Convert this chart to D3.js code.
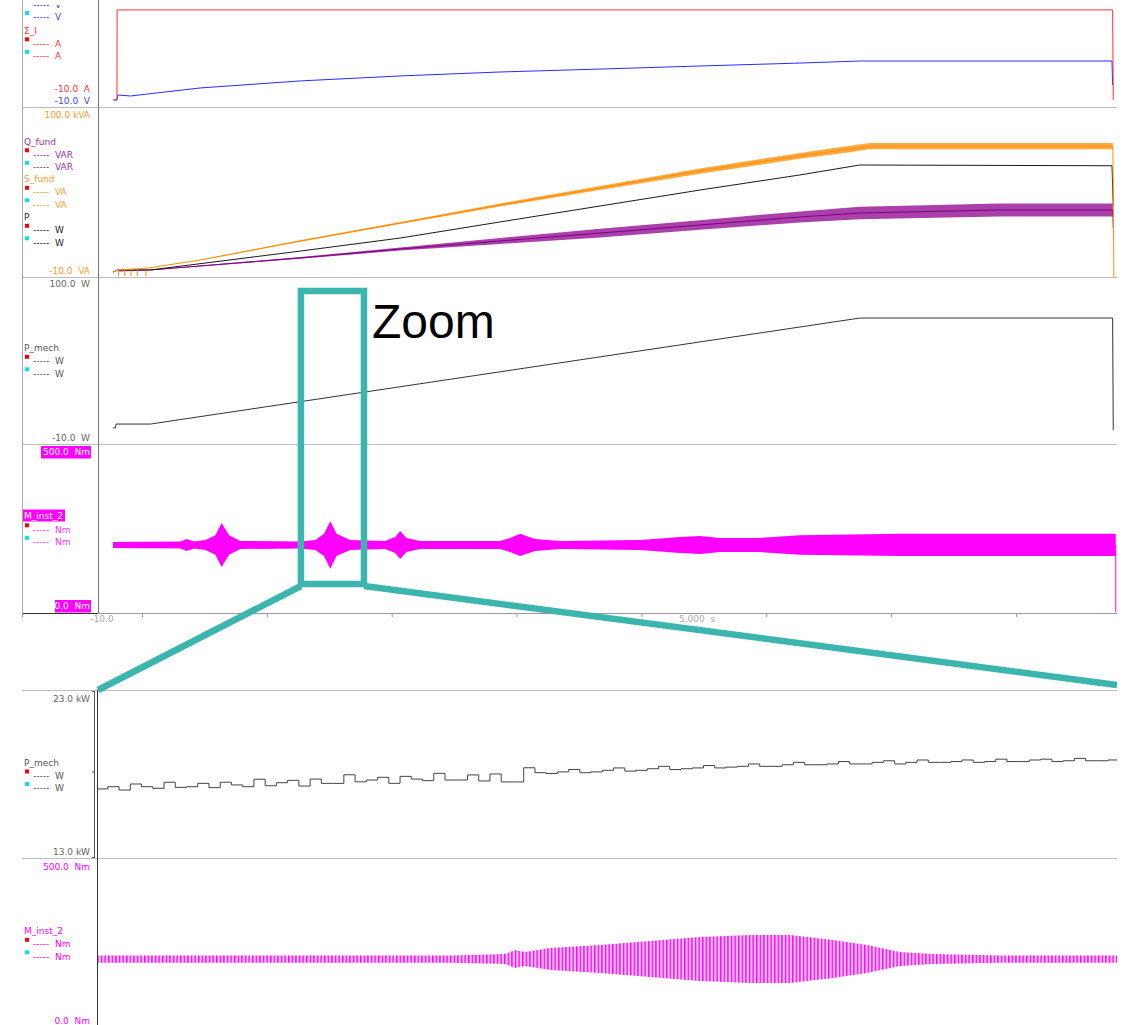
<!DOCTYPE html>
<html lang="en">
<head>
<meta charset="utf-8">
<title>Recorder with zoom</title>
<script src="https://cdn.jsdelivr.net/npm/d3@7"></script>
<style>
  body { margin: 0; background: #fff; }
  text { font-family: "DejaVu Sans", sans-serif; font-size: 9px; }
</style>
</head>
<body>
<script>

// time spans (s)
var tTop = [0, 8.16];
var tZoom = [1.625, 2.13];
var axisTicks = [0.352, 1.352, 2.352, 3.352, 4.352, 5.352, 6.352, 7.352];

// panel 1: voltage (V) and current (A)
var uSum = [[0.13,-8.6],[0.15,-8.6],[0.16,-5.2],[0.26,-5.9],[0.82,-0.4],[1.62,4.4],[2.42,7.8],[3.22,10.5],
            [4.02,12.5],[4.82,14.6],[5.62,16.6],[6.10,18],[8.12,18],[8.125,1.6]];
var iSum = [[0.12,-8.6],[0.152,-8.6],[0.153,52.9],[8.125,52.9],[8.13,-8.6]];

// panel 2: [t, value, noise half width]
var sFund = [[0.12,-10,0],[0.16,-8.6,0],[0.40,-7.3,0],[0.82,-1.8,0.2],[1.62,11.2,0.5],[2.42,23.5,0.7],[3.22,35.8,1],
             [4.02,47.4,1.4],[4.82,59,1.8],[5.62,69.3,2],[6.02,74,2.2],[6.18,76,2.2],[8.127,76,2.2],[8.135,-13.4,0]];
var sStartDips = [0.16, 0.21, 0.26, 0.31, 0.38];
var pFund = [[0.12,-10],[0.16,-8.6],[0.42,-8.6],[1.62,4.3],[2.42,13.2],[3.22,24.2],[4.02,35.1],[4.82,46],
             [5.62,56.3],[6.10,63.1],[8.12,62.6],[8.13,35.8]];
var qFund = [[0.16,-9.3,0],[0.42,-8.6,0.2],[1.62,-0.4,0.6],[2.42,5.7,1],[3.22,11.2,2],[4.02,16.6,3],
             [4.82,22.1,3.2],[5.62,27.6,3.8],[6.10,30.3,4.2],[7.22,32.4,4.4],[8.127,32.4,4.4],[8.13,20,0]];

// panel 3: mechanical power
var pMech = [[0.12,-2.3],[0.14,-2.3],[0.145,0.4],[0.42,0.4],[6.10,74.2],[8.125,74.2],[8.13,-3.7]];

// panel 4: torque [t, mean, half spread] (Nm)
var mInst = [[0.12,195,9.4],[0.66,195,11],[0.71,195,19],[0.77,195,11],[0.86,195,16],[0.94,195,31],[0.99,195,69],
             [1.05,195,31],[1.14,195,12.6],[1.62,195,11],[1.74,195,16],[1.81,195,35],[1.86,195,75],[1.91,195,35],
             [2.02,195,16],[2.30,195,12.6],[2.38,195,25],[2.42,195,44],[2.47,195,22],[2.58,195,12.6],[3.22,195,12.6],
             [3.30,195,22],[3.38,195,35],[3.50,195,19],[3.70,195,12.6],[4.34,195,16],[4.66,195,25],[4.82,195,28],
             [4.98,195,22],[5.30,195,22],[5.62,195,31],[6.42,195,35],[7.22,195,35],[8.15,195,35]];

// zoom panel 5: sampled mechanical power (kW), one value per sample
var pMechZoomT0 = 1.6243;
var pMechZoomDt = 0.00557;
var pMechZoom = [17.03,17.17,16.96,17.34,17.17,17.07,17.45,17.13,17.17,17.38,
                 17.11,17.45,17.28,17.17,17.64,17.23,17.42,17.57,17.21,17.65,
                 17.38,17.38,17.92,17.48,17.59,17.76,17.38,17.82,17.65,17.55,
                 18.01,17.59,17.59,17.91,17.53,17.97,17.47,17.47,18.36,18.05,
                 18.0,18.1,18.25,18.05,18.1,18.2,18.35,18.15,18.2,18.3,
                 18.45,18.25,18.3,18.35,18.5,18.35,18.4,18.45,18.6,18.45,
                 18.45,18.55,18.7,18.55,18.55,18.6,18.75,18.6,18.6,18.7,
                 18.8,18.6,18.7,18.85,18.7,18.7,18.75,18.85,18.7,18.75,
                 18.9,18.75,18.75,18.85,18.9,18.75,18.8,18.95,18.8,18.8,18.85];

// zoom panel 6: torque envelope [t, mean, half spread] (Nm)
var mZoom = [[1.625,193,11.5],[1.725,193,11.5],[1.7994,193,11.5],[1.8267,193,15.8],[1.8317,193,28.5],
             [1.8366,193,22],[1.849,193,34.8],[1.8738,193,44.3],[1.8986,193,57],[1.9233,193,69.6],
             [1.9481,193,76],[1.968,193,76],[1.9893,193,60],[2.0061,193,44.3],[2.0225,193,22],
             [2.0388,193,15.8],[2.072,193,11.5],[2.13,193,11.5]];

var w = 1127, h = 1025;
var svg = d3.select("body").append("svg").attr("width", w).attr("height", h);

var xTop = d3.scaleLinear().domain(tTop).range([98, 1117]);
var xZoom = d3.scaleLinear().domain(tZoom).range([98, 1117]);

function yScale(top, bottom, dom) {
  return d3.scaleLinear().domain(dom).range([bottom - 5, top + 4]);
}
var y1 = yScale(-63, 107, [-10, 100]);
var y2 = yScale(107, 277, [-10, 100]);
var y3 = yScale(277, 444, [-10, 100]);
var y4 = yScale(444, 612, [0, 500]);
var y5 = yScale(690, 858, [13, 23]);
var y6 = yScale(858, 1025, [0, 500]);

var defs = svg.append("defs");
defs.append("clipPath").attr("id", "clipTop")
  .append("rect").attr("x", 0).attr("y", 5).attr("width", w).attr("height", 200);
var pat = defs.append("pattern").attr("id", "wave").attr("patternUnits", "userSpaceOnUse")
  .attr("width", 3.6).attr("height", 10);
pat.append("rect").attr("width", 3.6).attr("height", 10).attr("fill", "#ffccff");
pat.append("rect").attr("width", 1.5).attr("height", 10).attr("fill", "#ff00ff");

// frame lines
var frame = svg.append("g");
[107, 277, 444].forEach(function(y) {
  frame.append("line").attr("x1", 22).attr("x2", 1117).attr("y1", y + 0.5).attr("y2", y + 0.5)
    .attr("stroke", "#bdbdbd");
});
[690, 858].forEach(function(y) {
  frame.append("line").attr("x1", 22).attr("x2", 1117).attr("y1", y + 0.5).attr("y2", y + 0.5)
    .attr("stroke", "#bdbdbd");
});
frame.append("line").attr("x1", 22.5).attr("x2", 22.5).attr("y1", 0).attr("y2", 613).attr("stroke", "#aaa");
frame.append("line").attr("x1", 98.5).attr("x2", 98.5).attr("y1", 0).attr("y2", 613).attr("stroke", "#777");
frame.append("line").attr("x1", 97.5).attr("x2", 97.5).attr("y1", 690).attr("y2", 1025).attr("stroke", "#333");
frame.append("line").attr("x1", 94.5).attr("x2", 94.5).attr("y1", 691).attr("y2", 858).attr("stroke", "#555");
[691.5, 772, 857.5].forEach(function(y) {
  frame.append("line").attr("x1", 92).attr("x2", 94.5).attr("y1", y).attr("y2", y).attr("stroke", "#555");
});
frame.append("line").attr("x1", 23).attr("x2", 98).attr("y1", 613.5).attr("y2", 613.5).attr("stroke", "#333");

// time axis
var axis = svg.append("g").attr("transform", "translate(0,613)")
  .call(d3.axisBottom(xTop).tickValues(axisTicks).tickSize(4).tickFormat(""));
axis.select(".domain").attr("stroke", "#999").attr("d", "M98.5,0.5H1117.5");
axis.selectAll(".tick line").attr("stroke", "#999");
axis.append("line").attr("x1", 22.5).attr("x2", 22.5).attr("y1", 0).attr("y2", 4).attr("stroke", "#999");
axis.append("text").attr("x", 102).attr("y", 9).attr("fill", "#aaa").text("-10.0");
axis.append("text").attr("x", 697).attr("y", 9).attr("fill", "#aaa").attr("xml:space", "preserve").text("5.000  s");

// helpers
function plotLine(xs, ys, data, color, width) {
  svg.append("path").datum(data)
    .attr("d", d3.line().x(function(d) { return xs(d[0]); }).y(function(d) { return ys(d[1]); }))
    .attr("fill", "none").attr("stroke", color).attr("stroke-width", width || 1);
}
function plotBand(xs, ys, data, color, opacity) {
  svg.append("path").datum(data.filter(function(d) { return d[2] > 0; }))
    .attr("d", d3.area().x(function(d) { return xs(d[0]); })
      .y0(function(d) { return ys(d[1] - d[2]); })
      .y1(function(d) { return ys(d[1] + d[2]); }))
    .attr("fill", color).attr("opacity", opacity);
}
function label(x, y, s, color, anchor) {
  return svg.append("text").attr("x", x).attr("y", y + 3.3).attr("fill", color)
    .attr("text-anchor", anchor || "start").attr("xml:space", "preserve").text(s);
}
function boxLabel(x0, x1, y, s) {
  svg.append("rect").attr("x", x0).attr("y", y - 6).attr("width", x1 - x0).attr("height", 12.5)
    .attr("fill", "#ff00ff");
  label(x1 - 1, y, s, "#fff", "end");
}
function legend(y, title, titleColor, unit, unitColor, clip) {
  var g = svg.append("g");
  if (clip) g.attr("clip-path", "url(#clipTop)");
  if (title) g.append("text").attr("x", 24).attr("y", y + 3.3).attr("fill", titleColor).text(title);
  [["#ff0000", 12.8], ["#00e5ee", 25.3]].forEach(function(r) {
    g.append("rect").attr("x", 25).attr("y", y + r[1] - 6).attr("width", 4).attr("height", 4).attr("fill", r[0]);
    g.append("text").attr("x", 33).attr("y", y + r[1] + 3.3).attr("fill", unitColor)
      .attr("xml:space", "preserve").text("-----  " + unit);
  });
  return g;
}

// panel 1
plotLine(xTop, y1, uSum, "#2a2aff");
plotLine(xTop, y1, iSum, "#ff3030");
legend(-8.3, "", "#4040ff", "V", "#4040ff", true);
label(24, 30.5, "Σ_I", "#ff3030");
legend(30.5, "", "#ff3030", "A", "#ff3030");
label(90, 89, "-10.0  A", "#ff3030", "end");
label(90, 101, "-10.0  V", "#4040ff", "end");

// panel 2
plotBand(xTop, y2, qFund, "#8e008e", 0.75);
plotLine(xTop, y2, qFund, "#800080");
plotLine(xTop, y2, pFund, "#1a1a1a");
plotBand(xTop, y2, sFund, "#ff8c00", 0.75);
plotLine(xTop, y2, sFund, "#ff8c00");
svg.append("g").selectAll("line").data(sStartDips).enter().append("line")
  .attr("x1", function(d) { return xTop(d) + 0.5; }).attr("x2", function(d) { return xTop(d) + 0.5; })
  .attr("y1", y2(-8.6)).attr("y2", y2(-12.7)).attr("stroke", "#ff8c00");
label(90, 115, "100.0 kVA", "#ff9a2e", "end");
legend(141.5, "Q_fund", "#993399", "VAR", "#993399");
legend(179, "S_fund", "#ff9a2e", "VA", "#ff9a2e");
legend(217, "P", "#222", "W", "#222");
label(90, 270.5, "-10.0  VA", "#ff9a2e", "end");

// panel 3
plotLine(xTop, y3, pMech, "#333");
label(90, 283.7, "100.0  W", "#666", "end");
legend(348, "P_mech", "#555", "W", "#555");
label(90, 438, "-10.0  W", "#666", "end");

// panel 4
plotBand(xTop, y4, mInst, "#ff00ff", 1);
plotLine(xTop, y4, mInst, "#ff00ff");
svg.append("line").attr("x1", xTop(8.15)).attr("x2", xTop(8.15)).attr("y1", y4(195)).attr("y2", y4(0) + 5)
  .attr("stroke", "#ff00ff");
boxLabel(41, 91, 452, "500.0  Nm");
svg.append("rect").attr("x", 23).attr("y", 509.5).attr("width", 42).attr("height", 12).attr("fill", "#ff00ff");
label(24, 515.5, "M_inst_2", "#fff");
legend(516.5, "", "#ff00ff", "Nm", "#ff33ff");
boxLabel(55, 91, 606, "0.0  Nm");

// zoom panel 5
var stepData = pMechZoom.map(function(v, i) { return [pMechZoomT0 + i * pMechZoomDt, v]; });
stepData.push([tZoom[1], pMechZoom[pMechZoom.length - 1]]);
svg.append("path").datum(stepData)
  .attr("d", d3.line().curve(d3.curveStepAfter)
    .x(function(d) { return Math.max(98, xZoom(d[0])); }).y(function(d) { return y5(d[1]); }))
  .attr("fill", "none").attr("stroke", "#444");
label(90, 699, "23.0 kW", "#666", "end");
legend(762.7, "P_mech", "#555", "W", "#555");
label(90, 852, "13.0 kW", "#666", "end");

// zoom panel 6
svg.append("path").datum(mZoom)
  .attr("d", d3.area().x(function(d) { return xZoom(d[0]); })
    .y0(function(d) { return y6(d[1] - d[2]); }).y1(function(d) { return y6(d[1] + d[2]); }))
  .attr("fill", "url(#wave)");
label(90, 866.7, "500.0  Nm", "#ff00ff", "end");
legend(931, "M_inst_2", "#ff00ff", "Nm", "#ff00ff");
label(90, 1020.7, "0.0  Nm", "#ff00ff", "end");

// zoom marker
var teal = "#3bb5ae";
var zx0 = xTop(tZoom[0]), zx1 = xTop(tZoom[1]);
svg.append("rect").attr("x", zx0).attr("y", 291).attr("width", zx1 - zx0).attr("height", 293)
  .attr("fill", "none").attr("stroke", teal).attr("stroke-width", 6.5);
svg.append("line").attr("x1", zx0).attr("y1", 586).attr("x2", 98).attr("y2", 690)
  .attr("stroke", teal).attr("stroke-width", 6.5);
svg.append("line").attr("x1", zx1).attr("y1", 586).attr("x2", 1117).attr("y2", 685)
  .attr("stroke", teal).attr("stroke-width", 6.5);
svg.append("text").attr("x", 372).attr("y", 338).attr("fill", "#000")
  .style("font-family", "'Liberation Sans', Arial, sans-serif").style("font-size", "48px").text("Zoom");

</script>
</body>
</html>
